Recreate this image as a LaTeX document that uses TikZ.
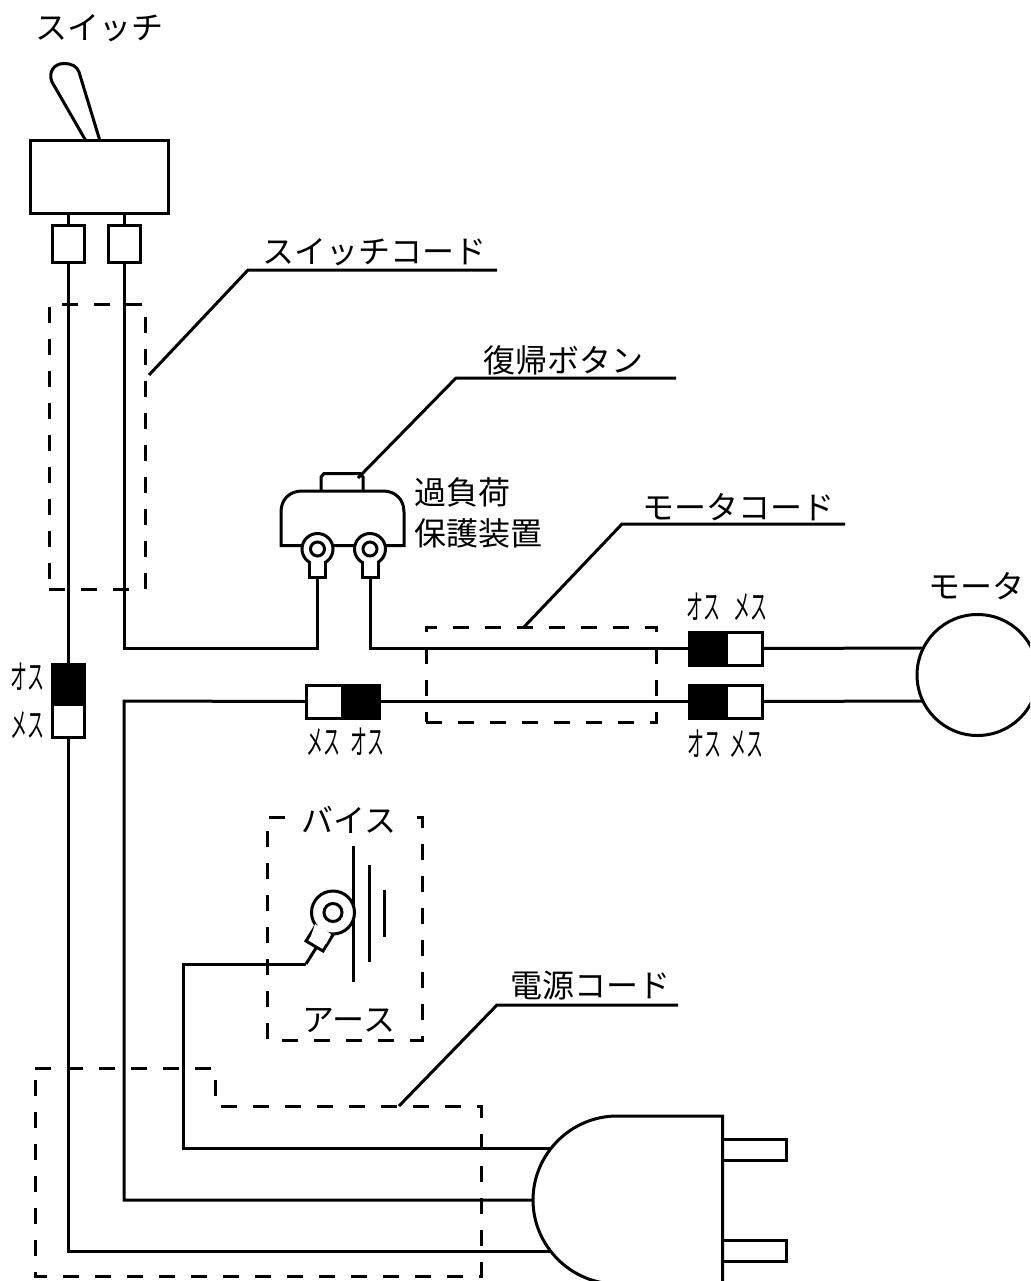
\documentclass[tikz,border=0pt]{standalone}
\usepackage{graphicx}
\usepackage{fontspec}
\setmainfont{Noto Sans CJK JP}
\usetikzlibrary{calc}
\newcommand{\condensed}[1]{\scalebox{0.5}[1]{#1}}
\tikzset{
  wire/.style={line width=3pt,line join=miter,draw=black},
  thinpart/.style={line width=3pt,draw=black,fill=white,inner sep=0pt,outer sep=0pt,rectangle},
  solidpart/.style={line width=3pt,draw=black,fill=black,inner sep=0pt,outer sep=0pt,rectangle},
  dashline/.style={line width=3pt,draw=black,dash pattern=on 16pt off 16pt},
  dashbox/.style={dashline,inner sep=0pt,outer sep=0pt,rectangle,fill=none},
  ring/.style={line width=3pt,draw=black,fill=white,circle,inner sep=0pt,outer sep=0pt},
  biglabel/.style={font=\fontsize{32pt}{32pt}\selectfont,inner sep=0pt,text=black},
  smalllabel/.style={font=\fontsize{34pt}{34pt}\selectfont,inner sep=0pt,text=black},
}
\begin{document}
\begin{tikzpicture}[x=1pt,y=-1pt]
\clip (0,0) rectangle (1030,1281);
\fill[white] (0,0) rectangle (1030,1281);

% coordinates for bends and free ends
\coordinate (cA) at (317,648);
\coordinate (cB) at (124,701);
\coordinate (plugA) at (551,1148);
\coordinate (plugB) at (540,1200);
\coordinate (plugC) at (551,1251);
\coordinate (bendE1) at (183,964);
\coordinate (bendE2) at (306,964);
\coordinate (motorA) at (922,648);
\coordinate (motorB) at (922,701);

% switch
\draw[wire,fill=white] (86,141) -- (52,82) .. controls (48,72) and (54,63.5) .. (64,63.5)
   .. controls (71,63.5) and (77,66) .. (79,72) -- (100,141);
\node[thinpart,minimum width=138pt,minimum height=73pt] (sw) at (99,177.5) {};
\node[thinpart,minimum width=32pt,minimum height=36pt] (t1) at (68.5,244) {};
\node[thinpart,minimum width=32pt,minimum height=36pt] (t2) at (124,244) {};
\draw[wire] (t1.north) -- (t1.north |- sw.south);
\draw[wire] (t2.north) -- (t2.north |- sw.south);

% vertical connector
\node[solidpart,minimum width=32pt,minimum height=40pt] (vm) at (68.5,684) {};
\node[thinpart,minimum width=32pt,minimum height=33pt] (vf) at (68.5,720.5) {};

% horizontal connectors
\node[thinpart,minimum width=36pt,minimum height=33pt] (hf) at (324,701.5) {};
\node[solidpart,minimum width=37pt,minimum height=33pt] (hm) at (360.5,701.5) {};
\node[solidpart,minimum width=37pt,minimum height=33pt] (am) at (707.5,648.5) {};
\node[thinpart,minimum width=36pt,minimum height=33pt] (af) at (744,648.5) {};
\node[solidpart,minimum width=37pt,minimum height=33pt] (bm) at (707.5,701.5) {};
\node[thinpart,minimum width=36pt,minimum height=33pt] (bf) at (744,701.5) {};

% overload protector
\draw[wire,fill=white] (321,491) -- (321,477) -- (324,473.5) -- (360,473.5) -- (363,477) -- (363,491);
\draw[wire,fill=white] (281,545.5) -- (281,512) .. controls (281,499) and (290,491) .. (302,491)
  -- (383,491) .. controls (395,491) and (404,499) .. (404,512) -- (404,545.5) -- cycle;
\node[thinpart,minimum width=16pt,minimum height=18pt] (tabA) at (317,568) {};
\node[thinpart,minimum width=16pt,minimum height=18pt] (tabB) at (370,568) {};
\node[ring,minimum size=31pt] (ringA) at (317.5,549) {};
\node[ring,minimum size=31pt] (ringB) at (370,549) {};
\fill[white] (310.5,558) rectangle (323.5,566);
\fill[white] (363.5,558) rectangle (376.5,566);
\node[ring,minimum size=14pt] (holeA) at (317.5,549) {};
\node[ring,minimum size=14pt] (holeB) at (370,549) {};

% wiring
\draw[wire] (t1.south) -- (vm.north);
\draw[wire] (vf.south) |- (plugC);
\draw[wire] (t2.south) |- (cA) -- (tabA.south);
\draw[wire] (tabB.south) |- (am.west);
\draw[wire] (af.east) -- (motorA);
\draw[wire] (hm.east) -- (bm.west);
\draw[wire] (bf.east) -- (motorB);
\draw[wire] (hf.west) -- (cB) |- (plugB);
\draw[wire] (plugA) -| (bendE1) -- (bendE2);

% motor
\node[ring,minimum size=121pt] (motor) at (977.5,675) {};

% earth
\coordinate (e1a) at (353,846); \coordinate (e1b) at (353,982);
\coordinate (e2a) at (369,865); \coordinate (e2b) at (369,962);
\coordinate (e3a) at (384,890); \coordinate (e3b) at (384,937);
\draw[wire] (e1a) -- (e1b);
\draw[wire] (e2a) -- (e2b);
\draw[wire] (e3a) -- (e3b);
\coordinate (lugEnd) at (316,948);
\draw[wire] (bendE2) -- (lugEnd);
\draw[wire,fill=white] (318,922) -- (306,941) -- (323,951) -- (336,930) -- cycle;
\node[ring,minimum size=43pt] (ringE) at (333,912.5) {};
\fill[white] (315,924) -- (322,928) -- (331,934) -- (326,944) -- (311,936) -- cycle;
\node[ring,minimum size=18pt] (holeE) at (333,912.5) {};

% plug
\node[thinpart,minimum width=64pt,minimum height=21pt] (pinA) at (754.5,1150) {};
\node[thinpart,minimum width=64pt,minimum height=21pt] (pinB) at (754.5,1251) {};
\draw[wire,fill=white] (722.5,1116) -- (617,1116) .. controls (571,1116) and (533,1154) .. (533,1200)
   .. controls (533,1246) and (571,1284) .. (617,1284) -- (722.5,1284) -- cycle;

% dashed outlines
\node[dashbox,minimum width=96pt,minimum height=285pt] (scord) at (97,446.5) {};
\node[dashbox,minimum width=230pt,minimum height=95pt] (mcord) at (541,674.5) {};
\coordinate (pw1) at (35,1068); \coordinate (pw2) at (215,1068); \coordinate (pw3) at (215,1106);
\coordinate (pw4) at (481,1106); \coordinate (pw5) at (481,1276); \coordinate (pw6) at (35,1276);
\draw[dashline] (pw1) -- (pw2) -- (pw3) -- (pw4) -- (pw5) -- (pw6) -- cycle;
\coordinate (v1) at (285,817); \coordinate (v2) at (267,817); \coordinate (v3) at (267,1040);
\coordinate (v4) at (422,1040); \coordinate (v5) at (422,817); \coordinate (v6) at (416,817);
\draw[dashline] (v1) -- (v2) -- (v3) -- (v4) -- (v5) -- (v6);

% leaders
\coordinate (l1a) at (149,375); \coordinate (l1b) at (248,270); \coordinate (l1c) at (497,270);
\draw[wire] (l1a) -- (l1b) -- (l1c);
\coordinate (l2a) at (358,478); \coordinate (l2b) at (456,378); \coordinate (l2c) at (676,378);
\draw[wire] (l2a) -- (l2b) -- (l2c);
\coordinate (l3a) at (524,627); \coordinate (l3b) at (622,524); \coordinate (l3c) at (845,524);
\draw[wire] (l3a) -- (l3b) -- (l3c);
\coordinate (l4a) at (399,1106); \coordinate (l4b) at (497,1005); \coordinate (l4c) at (678,1005);
\draw[wire] (l4a) -- (l4b) -- (l4c);

% labels
\node[biglabel] (txSw) at (99,28) {スイッチ};
\node[biglabel] (txSc) at (374,252) {スイッチコード};
\node[biglabel] (txRb) at (563,360) {復帰ボタン};
\node[biglabel,anchor=west] (txOl1) at (414,492) {過負荷};
\node[biglabel,anchor=west] (txOl2) at (414,533) {保護装置};
\node[biglabel] (txMc) at (738,507) {モータコード};
\node[biglabel] (txMo) at (976,586) {モータ};
\node[biglabel] (txVi) at (349,820) {バイス};
\node[biglabel] (txEa) at (349,1020) {アース};
\node[biglabel] (txPc) at (590,985) {電源コード};
\node[smalllabel] (m1) at (27,677) {\condensed{オス}};
\node[smalllabel] (f1) at (27,725) {\condensed{メス}};
\node[smalllabel] (f2) at (323,742) {\condensed{メス}};
\node[smalllabel] (m2) at (367,742) {\condensed{オス}};
\node[smalllabel] (m3) at (703,607) {\condensed{オス}};
\node[smalllabel] (f3) at (750,607) {\condensed{メス}};
\node[smalllabel] (m4) at (704,744) {\condensed{オス}};
\node[smalllabel] (f4) at (746,744) {\condensed{メス}};
\end{tikzpicture}
\end{document}
